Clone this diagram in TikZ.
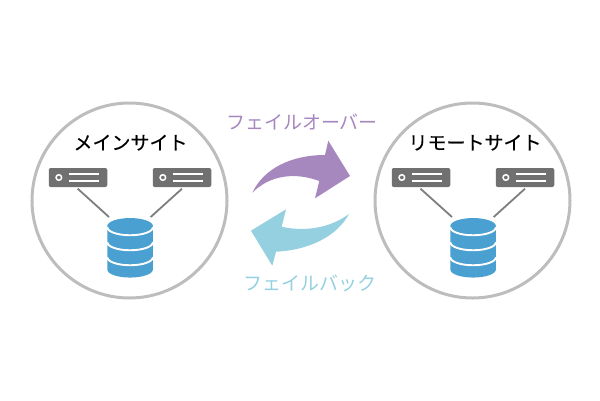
\documentclass[tikz,border=0pt]{standalone}
\usepackage{fontspec}
\setmainfont{Noto Sans CJK JP}
\newfontfamily\sitefont[FakeBold=0.25]{Noto Sans CJK JP}
\definecolor{ringgray}{HTML}{BDBDBD}
\definecolor{srvgray}{HTML}{707070}
\definecolor{dbblue}{HTML}{4AA0D0}
\definecolor{fopurple}{HTML}{A688BE}
\definecolor{fbblue}{HTML}{94D0E0}
\tikzset{
  site/.style={circle,draw=ringgray,line width=3pt,minimum size=195pt,inner sep=0pt},
  server/.style={rectangle,rounded corners=2pt,fill=srvgray,minimum width=58.5pt,minimum height=19pt,inner sep=0pt},
  dbstore/.style={rectangle,minimum width=45.6pt,minimum height=59.5pt,inner sep=0pt},
  link/.style={draw=srvgray!90,line width=1.8pt},
  sitelabel/.style={font=\sitefont\fontsize{19pt}{20pt}\selectfont,text=black,inner sep=0pt},
  pair/.style={font=\fontsize{19pt}{20pt}\selectfont,inner sep=0pt}
}
\newcommand{\srvdetail}[1]{%
  \draw[white,line width=1.5pt] ([xshift=10.3pt]#1.west) circle (2.8pt);
  \draw[white,line width=1.5pt] ([xshift=20.3pt,yshift=3.7pt]#1.west) -- ([xshift=50.3pt,yshift=3.7pt]#1.west);
  \draw[white,line width=1.5pt] ([xshift=20.3pt,yshift=-3.7pt]#1.west) -- ([xshift=50.3pt,yshift=-3.7pt]#1.west);
}
\newcommand{\dbdetail}[1]{%
  \fill[dbblue] (#1.north west) ++(0,-8pt) arc[start angle=180,end angle=0,x radius=22.8pt,y radius=8pt]
    -- ++(0,-43.5pt) arc[start angle=0,end angle=-180,x radius=22.8pt,y radius=8pt] -- cycle;
  \foreach \d in {9.2,24.2,39.2}{
    \draw[white,line width=1.9pt] ([yshift=-\d pt]#1.north west) arc[start angle=180,end angle=360,x radius=22.8pt,y radius=8pt];
  }
}
\begin{document}
\begin{tikzpicture}[x=1pt,y=-1pt]
\useasboundingbox (0,0) rectangle (600,400);
\node[site] (left) at (129.5,200.5) {};
\node[site] (right) at (472.5,200.5) {};
\node[sitelabel] (lt) at (130.5,142.7) {メインサイト};
\node[sitelabel] (rt) at (475,142.7) {リモートサイト};
\node[server] (s1) at (78,177.5) {};
\node[server] (s2) at (182,177.5) {};
\node[server] (s3) at (421,177.5) {};
\node[server] (s4) at (525,177.5) {};
\srvdetail{s1}\srvdetail{s2}\srvdetail{s3}\srvdetail{s4}
\node[dbstore] (d1) at (130.3,248) {};
\node[dbstore] (d2) at (473.3,248) {};
\dbdetail{d1}\dbdetail{d2}
\coordinate (a1) at (77.7,188.7); \coordinate (b1) at (109,217);
\coordinate (a2) at (182,188.7); \coordinate (b2) at (150.7,217);
\coordinate (a3) at (420.5,188.7); \coordinate (b3) at (452,217);
\coordinate (a4) at (525,188.7); \coordinate (b4) at (493.7,217);
\draw[link] (a1) -- (b1);
\draw[link] (a2) -- (b2);
\draw[link] (a3) -- (b3);
\draw[link] (a4) -- (b4);
\fill[fopurple] (252.3,192.7) .. controls (264,168) and (292,155) .. (325,155)
  -- (328.3,140.7) -- (350,176) -- (315,198.3) -- (319.3,181)
  .. controls (295,172) and (270,175) .. cycle;
\fill[fbblue] (349,214) .. controls (337,236) and (310,250) .. (276,251.7)
  -- (272.3,265.7) -- (251,230.7) -- (286,209.3) -- (281.7,226.7)
  .. controls (305,232) and (330,228) .. cycle;
\node[pair,text=fopurple] (fo) at (302,121.7) {フェイルオーバー};
\node[pair,text=fbblue] (fb) at (310,283.3) {フェイルバック};
\end{tikzpicture}
\end{document}
